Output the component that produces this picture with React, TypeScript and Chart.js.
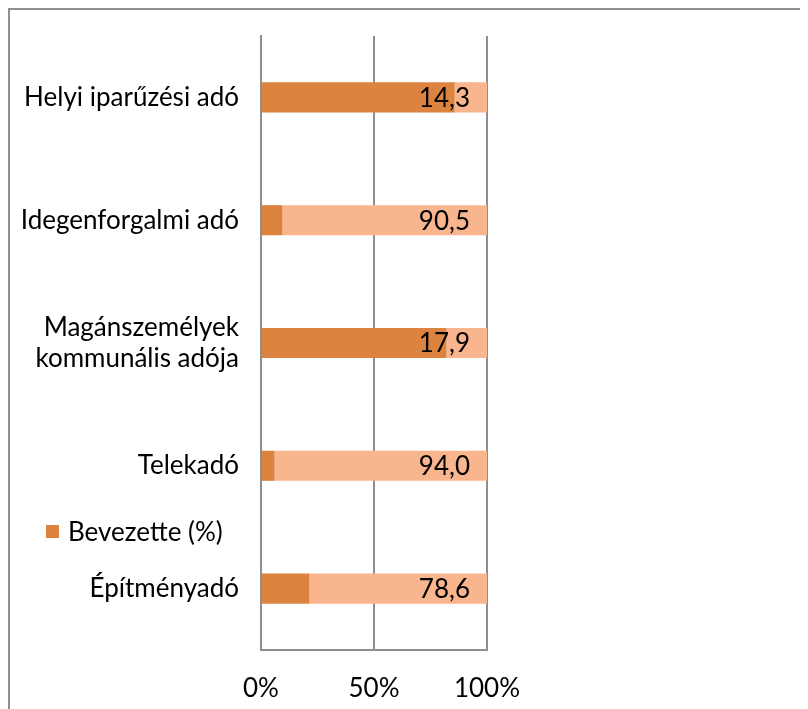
import React, { useEffect, useRef } from "react";
import { Chart, registerables } from "chart.js";

Chart.register(...registerables);

const categories: (string | string[])[] = [
  "Helyi iparűzési adó",
  "Idegenforgalmi adó",
  ["Magánszemélyek", "kommunális adója"],
  "Telekadó",
  "Építményadó",
];
const introduced = [85.7, 9.5, 82.1, 6.0, 21.4];
const notIntroduced = [14.3, 90.5, 17.9, 94.0, 78.6];
const xTicks = [0, 50, 100];
const legendLabel = "Bevezette (%)";

const FONT = "Lato";
const FS = 26;
const DARK = "#DC843F";
const LIGHT = "#F8B58E";
const GRID = "#8e8e8e";

const W = 798;
const H = 699;

export default function App() {
  const ref = useRef<HTMLCanvasElement | null>(null);
  useEffect(() => {
    document.documentElement.style.overflow = "hidden";
    const canvas = ref.current!;
    const labelPlugin = {
      id: "valueLabels",
      afterDatasetsDraw(chart: any) {
        const ctx = chart.ctx;
        const meta = chart.getDatasetMeta(1);
        ctx.save();
        ctx.font = `${FS}px ${FONT}`;
        ctx.fillStyle = "#000";
        ctx.textAlign = "right";
        ctx.textBaseline = "middle";
        meta.data.forEach((bar: any, i: number) => {
          const txt = notIntroduced[i].toFixed(1).replace(".", ",");
          ctx.fillText(txt, bar.x - 17, bar.y + 1);
        });
        ctx.restore();
      },
    };
    const legendPlugin = {
      id: "customLegend",
      afterDraw(chart: any) {
        const ctx = chart.ctx;
        const ys = chart.scales.y;
        const p3 = ys.getPixelForValue(3);
        const p4 = ys.getPixelForValue(4);
        const y = p3 + (p4 - p3) * 0.535;
        const x = chart.chartArea.left - 215;
        ctx.save();
        ctx.fillStyle = DARK;
        ctx.fillRect(x, y - 6.5, 13, 13);
        ctx.font = `${FS}px ${FONT}`;
        ctx.fillStyle = "#000";
        ctx.textAlign = "left";
        ctx.textBaseline = "middle";
        ctx.fillText(legendLabel, x + 22, y + 1);
        ctx.restore();
      },
    };
    const chart = new Chart(canvas, {
      type: "bar",
      data: {
        labels: categories,
        datasets: [
          { label: legendLabel, data: introduced, backgroundColor: DARK, barPercentage: 0.245, categoryPercentage: 1 },
          { label: "Nem vezette be (%)", data: notIntroduced, backgroundColor: LIGHT, barPercentage: 0.245, categoryPercentage: 1 },
        ],
      },
      options: {
        indexAxis: "y",
        responsive: false,
        animation: false,
        layout: { padding: { top: 26, right: W - 477, left: 0, bottom: 0 } },
        plugins: { legend: { display: false }, tooltip: { enabled: false } },
        scales: {
          x: {
            stacked: true,
            min: 0,
            max: 100,
            afterBuildTicks: (s: any) => {
              s.ticks = xTicks.map((v) => ({ value: v }));
            },
            afterFit: (s: any) => {
              s.height = H - 640;
              s.paddingRight = 0;
              s.paddingLeft = 0;
            },
            grid: { color: GRID, lineWidth: 2, drawTicks: false },
            border: { color: GRID, width: 2 },
            ticks: {
              padding: 23,
              color: "#000",
              font: { family: FONT, size: FS },
              callback: (v: any) => `${v}%`,
            },
          },
          y: {
            stacked: true,
            afterFit: (s: any) => {
              s.width = 251;
              s.paddingTop = 0;
              s.paddingBottom = 0;
            },
            grid: { display: false, drawTicks: false },
            border: { color: GRID, width: 2 },
            ticks: {
              padding: 22,
              color: "#000",
              font: { family: FONT, size: FS },
            },
          },
        },
      },
      plugins: [labelPlugin, legendPlugin],
    });
    return () => chart.destroy();
  }, []);
  return (
    <div
      style={{
        width: 798,
        height: 699,
        borderLeft: "2px solid #8f8f8f",
        borderTop: "2px solid #8f8f8f",
        overflow: "hidden",
      }}
    >
      <canvas ref={ref} width={W} height={H} style={{ display: "block" }} />
    </div>
  );
}
